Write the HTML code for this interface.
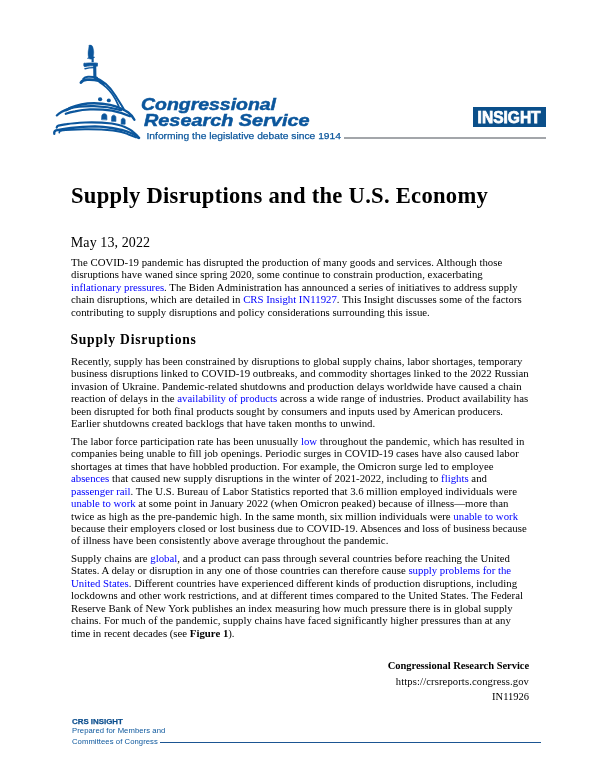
<!DOCTYPE html>
<html><head><meta charset="utf-8"><title>Supply Disruptions and the U.S. Economy</title>
<style>
html,body{margin:0;padding:0;background:#fff;}
body{width:600px;height:777px;position:relative;overflow:hidden;}
.a{position:absolute;white-space:nowrap;}
.serif{font-family:"Liberation Serif",serif;color:#000;}
.p{position:absolute;left:71px;font-family:"Liberation Serif",serif;font-size:10.79px;line-height:12.42px;color:#000;white-space:nowrap;}
.p a{color:#0000ff;text-decoration:none;}
.logo{position:absolute;left:0;top:0;}
.lt{font-family:"Liberation Sans",sans-serif;font-weight:bold;font-style:italic;color:#1b5592;}
</style></head><body>
<div id="w" style="position:absolute;left:0;top:0;width:600px;height:777px;will-change:transform;">

<svg class="logo" width="360" height="150" viewBox="0 0 360 150">
<g fill="none" stroke="#0b569c" stroke-linecap="round" stroke-linejoin="round">
 <!-- statue -->
 <path d="M89.2 45.3 C90.5 44.8 92.2 45.2 92.8 47 C93.6 49.5 94 52 93.6 54.5 C93.4 55.5 93.3 56.2 93.4 56.8 L94.8 57.2 L93.5 58.3 L93.5 62 L91.8 62 L91.8 59.2 C90.5 59.2 89.5 59 88.8 58.6 L87.3 58.4 L88.5 57.3 C87.9 55 87.9 51.5 88.6 49 C88.9 47.8 88.8 46.3 89.2 45.3 Z" fill="#0b569c" stroke-width="0.4"/>
 <!-- lantern -->
 <path d="M84.2 63.4 C88 62.9 94 62.8 97.5 63.2 L97.3 66.2 C93 65.6 88 65.8 84.4 66.7 C83.6 65.6 83.6 64.2 84.2 63.4 Z" fill="#0b569c" stroke-width="0.8"/>
 <path d="M85 68.7 C88 68 91 67.7 94 67.6" stroke-width="1.4"/>
 <path d="M94.7 65.5 L94.9 77.5" stroke-width="3.1"/>
 <!-- lantern base / dome top -->
 <path d="M83.3 78.8 C84.3 77.4 86 76.8 88 76.7 C91 76.6 94 76.8 97 77.6" stroke-width="2"/>
 <path d="M80.9 82.6 C82 80.6 84 79.9 87 79.7 C91 79.5 95 79.7 98.5 80.7 C100.5 81.4 102 82.3 103.5 83.7" stroke-width="2.8"/>
 <path d="M95.5 77.8 C103 80.5 110 87 115 95 C118.5 100.5 121.5 105 124.2 109.9" stroke-width="2.1"/>
 <path d="M99.5 82.3 C104 85 109 89.5 112.5 94.5 C115 98 117 102 118.8 106.4" stroke-width="1.7"/>
 <!-- top windows -->
 <ellipse cx="100.1" cy="99.2" rx="2.1" ry="2" fill="#0b569c" stroke="none"/>
 <ellipse cx="108.8" cy="100.4" rx="2" ry="1.9" fill="#0b569c" stroke="none"/>
 <!-- middle drum -->
 <path d="M56.8 115.4 C59.5 112.6 63.5 110.6 69.5 108.6" stroke-width="2.2"/>
 <path d="M66 110.2 C72 106.6 79 104.4 87.5 103.5 C96 102.9 104 103.6 110 104.9 C118 106.9 124 109.4 128 112.3 C131 114.5 133 117 134.4 119.8" stroke-width="2.4"/>
 <path d="M69 108.6 C76 106.7 84 106 94 106.2 C104 106.4 112 107.7 121 110.2" stroke-width="2.3"/>
 <path d="M65.8 113.8 C69 112.5 72 111.8 75 111.3 C80 110.2 85 109.6 90 109.4 C97 109.2 104 109.5 112 110.6 C118 111.8 124 113.5 130 116.3" stroke-width="2.3"/>
 <!-- windows row 2 -->
 <path d="M101.6 119.3 L101.8 116 C102 113 106.6 112.9 106.8 116 L106.9 119.5 Z" fill="#0b569c" stroke-width="0.7"/>
 <path d="M111.6 121 L111.7 117.2 C111.9 114.4 115.7 114.5 115.9 117.5 L115.9 121.1 Z" fill="#0b569c" stroke-width="0.7"/>
 <path d="M121.2 123.9 L121.3 120 C121.5 117.5 124.9 117.5 125.1 120.2 L125.1 123.9 Z" fill="#0b569c" stroke-width="0.7"/>
 <!-- bottom drum -->
 <path d="M56.7 127.6 C56.9 126.7 57.5 126 58.5 125.6 C61 125 63.5 124.6 66.7 124.2 C72 123.3 78 122.8 85 122.5 C93 122.2 102 122.4 111.7 123.5 C118 124.5 122 125.8 124.2 126.8 C128 128.5 131 130.1 133 131.9 C135.5 133.9 137.5 135.8 139.2 138" stroke-width="2.2"/>
 <path d="M54.3 133.8 C54 132 54.6 130.9 56 130.4 C60 129.6 65 128.8 70.8 128 C78 127.2 86 126.6 95 126.4 C102 126.6 108 127.4 111.7 128 C117 129 121 129.8 124.2 130.6 C128 131.8 131 132.8 132.5 133.8 C135 135 137 136.5 138.4 138" stroke-width="2.3"/>
 <path d="M59.3 132.6 C59.2 131.4 60 130.6 61.5 130.4" stroke-width="1.7"/>
 <path d="M61 130.6 C67 129.8 76 129.4 85 129.3 C95 129.2 105 129.6 113 130.4 C119 131.2 124 132.4 128 134.2 C131 135.4 134 136.6 136 137.4" stroke-width="2"/>
</g>
<text x="141" y="110" font-family="Liberation Sans, sans-serif" font-weight="bold" font-style="italic" font-size="16.5" fill="#0b569c" stroke="#0b569c" stroke-width="0.5" textLength="135" lengthAdjust="spacingAndGlyphs">Congressional</text>
<text x="144" y="125.7" font-family="Liberation Sans, sans-serif" font-weight="bold" font-style="italic" font-size="16.2" fill="#0b569c" stroke="#0b569c" stroke-width="0.5" textLength="165.5" lengthAdjust="spacingAndGlyphs">Research Service</text>
<text x="146.5" y="138.8" font-family="Liberation Sans, sans-serif" font-size="9.7" fill="#0b569c" stroke="#0b569c" stroke-width="0.25" textLength="194.5" lengthAdjust="spacingAndGlyphs">Informing the legislative debate since 1914</text>
</svg>

<svg class="a" style="left:473px;top:107px;" width="73" height="20" viewBox="0 0 73 20"><rect x="0" y="0" width="73" height="20" fill="#0b4f8a"/><text x="4.6" y="15.8" font-family="Liberation Sans, sans-serif" font-weight="bold" font-size="16" fill="#fff" stroke="#fff" stroke-width="0.75" textLength="63" lengthAdjust="spacingAndGlyphs">INSIGHT</text></svg>
<div class="a" style="left:344px;top:137.2px;width:202px;height:1.8px;background:#a3a6aa;"></div>

<div class="a serif" style="left:71px;top:181.6px;font-weight:bold;font-size:22.6px;line-height:28px;letter-spacing:0.28px;">Supply Disruptions and the U.S. Economy</div>
<div class="a serif" style="left:70.8px;top:234.5px;font-size:14px;line-height:16px;letter-spacing:0.1px;">May 13, 2022</div>

<div class="p" style="top:256px;">The COVID-19 pandemic has disrupted the production of many goods and services. Although those<br>disruptions have waned since spring 2020, some continue to constrain production, exacerbating<br><a>inflationary pressures</a>. The Biden Administration has announced a series of initiatives to address supply<br>chain disruptions, which are detailed in <a>CRS Insight IN11927</a>. This Insight discusses some of the factors<br>contributing to supply disruptions and policy considerations surrounding this issue.</div>

<div class="a serif" style="left:70.4px;top:332.1px;font-weight:bold;font-size:13.6px;line-height:16px;letter-spacing:0.78px;">Supply Disruptions</div>

<div class="p" style="top:355px;">Recently, supply has been constrained by disruptions to global supply chains, labor shortages, temporary<br>business disruptions linked to COVID-19 outbreaks, and commodity shortages linked to the 2022 Russian<br>invasion of Ukraine. Pandemic-related shutdowns and production delays worldwide have caused a chain<br>reaction of delays in the <a>availability of products</a> across a wide range of industries. Product availability has<br>been disrupted for both final products sought by consumers and inputs used by American producers.<br>Earlier shutdowns created backlogs that have taken months to unwind.</div>

<div class="p" style="top:435px;">The labor force participation rate has been unusually <a>low</a> throughout the pandemic, which has resulted in<br>companies being unable to fill job openings. Periodic surges in COVID-19 cases have also caused labor<br>shortages at times that have hobbled production. For example, the Omicron surge led to employee<br><a>absences</a> that caused new supply disruptions in the winter of 2021-2022, including to <a>flights</a> and<br><a>passenger rail</a>. The U.S. Bureau of Labor Statistics reported that 3.6 million employed individuals were<br><a>unable to work</a> at some point in January 2022 (when Omicron peaked) because of illness—more than<br>twice as high as the pre-pandemic high. In the same month, six million individuals were <a>unable to work</a><br>because their employers closed or lost business due to COVID-19. Absences and loss of business because<br>of illness have been consistently above average throughout the pandemic.</div>

<div class="p" style="top:552px;">Supply chains are <a>global</a>, and a product can pass through several countries before reaching the United<br>States. A delay or disruption in any one of those countries can therefore cause <a>supply problems for the</a><br><a>United States</a>. Different countries have experienced different kinds of production disruptions, including<br>lockdowns and other work restrictions, and at different times compared to the United States. The Federal<br>Reserve Bank of New York publishes an index measuring how much pressure there is in global supply<br>chains. For much of the pandemic, supply chains have faced significantly higher pressures than at any<br>time in recent decades (see <b>Figure 1</b>).</div>

<div class="a serif" style="right:71px;top:660.3px;font-weight:bold;font-size:10.5px;line-height:12px;text-align:right;letter-spacing:-0.04px;">Congressional Research Service</div>
<div class="a serif" style="right:71px;top:676px;font-size:10.6px;line-height:12px;text-align:right;letter-spacing:0.12px;">https://crsreports.congress.gov</div>
<div class="a serif" style="right:71px;top:690.6px;font-size:10.5px;line-height:12px;text-align:right;">IN11926</div>

<div class="a" style="left:72px;top:716.8px;font-family:'Liberation Sans',sans-serif;font-weight:bold;font-size:7.9px;line-height:9px;color:#0d4f8e;letter-spacing:0px;-webkit-text-stroke:0.25px #0d4f8e;">CRS INSIGHT</div>
<div class="a" style="left:72px;top:726.1px;font-family:'Liberation Sans',sans-serif;font-size:7.7px;line-height:10.5px;color:#0b569c;letter-spacing:0.06px;">Prepared for Members and<br>Committees of Congress</div>
<div class="a" style="left:160px;top:742px;width:381px;height:1.2px;background:#1b5592;"></div>

</div>
</body></html>
